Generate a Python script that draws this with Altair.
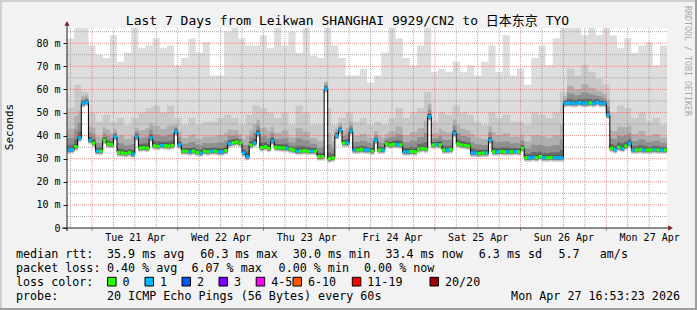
import altair as alt
import pandas as pd

W, H = 600, 200
PAD_L, PAD_T, PAD_R, PAD_B = 67, 28, 30, 82
Y_TOP = 86.6
HOURS = 168
MONO = "DejaVu Sans Mono"

# hourly median RTT (ms), Mon 20 Apr 17:00 -> Mon 27 Apr 17:00
median_ms = [
    33.8, 34.0, 35.2, 39.0, 54.0, 54.5, 38.0, 36.8, 33.3, 33.3, 38.0, 36.4,
    36.2, 39.5, 32.7, 32.5, 32.3, 32.7, 32.0, 39.5, 34.6, 34.8, 34.6, 39.0,
    35.6, 35.4, 35.8, 35.6, 35.5, 35.8, 41.7, 36.0, 33.3, 33.3, 33.0, 33.3,
    32.8, 32.5, 33.3, 33.0, 33.3, 33.3, 33.0, 33.0, 33.5, 36.5, 37.0, 37.3,
    36.8, 32.5, 30.9, 36.0, 36.8, 41.0, 34.8, 35.2, 34.5, 37.7, 35.0, 34.8,
    34.6, 34.6, 34.2, 33.8, 33.3, 33.3, 33.5, 33.3, 33.3, 33.3, 30.9, 30.9,
    60.3, 30.0, 30.4, 40.0, 42.4, 36.8, 36.8, 42.0, 33.8, 33.8, 34.0, 33.8,
    33.8, 33.3, 38.0, 33.8, 33.8, 36.5, 36.0, 36.3, 36.2, 36.0, 33.0, 33.0,
    33.2, 33.0, 34.2, 34.5, 34.2, 48.2, 36.0, 36.2, 36.0, 33.8, 33.8, 34.0,
    41.0, 36.5, 36.0, 35.8, 35.5, 32.5, 32.5, 32.3, 32.5, 32.5, 38.0, 33.0,
    33.0, 33.2, 33.0, 33.0, 33.0, 33.2, 33.0, 34.6, 30.4, 30.4, 30.6, 30.4,
    31.0, 30.4, 30.4, 30.6, 30.4, 30.4, 30.4, 54.0, 54.2, 54.0, 54.0, 54.3,
    54.0, 54.0, 54.2, 54.0, 54.5, 54.0, 54.0, 49.0, 34.5, 34.0, 35.0, 34.5,
    35.5, 36.6, 33.8, 33.8, 34.0, 33.8, 33.8, 33.8, 34.0, 33.8, 33.8, 33.8,
]

# hourly lost pings (of 20)
loss_pings = [
    1, 1, 0, 1, 1, 1, 1, 0, 1, 0, 0, 0,
    0, 1, 0, 0, 0, 0, 1, 1, 0, 0, 0, 1,
    0, 0, 1, 0, 0, 0, 1, 1, 0, 0, 1, 0,
    0, 1, 0, 0, 1, 0, 1, 1, 0, 1, 0, 0,
    0, 1, 1, 0, 1, 1, 0, 0, 0, 1, 0, 0,
    0, 1, 0, 0, 1, 0, 0, 0, 1, 0, 0, 0,
    1, 0, 0, 1, 1, 0, 1, 1, 1, 0, 0, 1,
    1, 0, 1, 0, 1, 0, 0, 0, 1, 0, 1, 1,
    0, 0, 0, 0, 0, 1, 0, 1, 0, 0, 1, 0,
    1, 0, 0, 0, 0, 1, 1, 0, 0, 1, 1, 0,
    1, 0, 0, 1, 0, 1, 0, 0, 0, 1, 1, 0,
    0, 1, 0, 0, 1, 1, 1, 1, 1, 1, 1, 1,
    1, 1, 0, 1, 1, 1, 1, 1, 0, 1, 0, 1,
    0, 1, 1, 0, 0, 1, 0, 0, 1, 0, 1, 0,
]

# smoke extents per 2-hour bin (ms): highest ping, and upper edge of the dense smoke
smoke_max_ms = [
    82, 86.6, 86.6, 79, 75, 73.6, 83.5, 72, 76, 86.6, 78, 79, 82, 78, 79, 70.5, 73.6, 82, 76, 80.5, 66,
    66, 85, 86.6, 82, 79, 79, 83.5, 78, 86.6, 79, 85, 76, 86.6, 74.6, 73.6, 86.6, 79, 73.6, 66, 66, 69,
    63, 66, 76, 86.6, 82, 73.6, 70.5, 79, 86.6, 67.5, 69, 67.5, 72, 67.5, 70.5, 66, 72, 79, 67.5, 83.5, 66,
    69, 62, 73.6, 79, 70.5, 82, 86.6, 86.6, 86.6, 83.5, 86.6, 83.5, 86.6, 83.5, 78, 82, 76, 79, 80.5, 70.5, 79,
]
smoke_mid_ms = [
    52, 62, 59, 50, 46, 49, 46, 47.6, 44.6, 47.6, 50, 52, 53, 50, 53, 47.6, 44.6, 47.6, 44.6, 46, 46,
    47.6, 49, 47.6, 44.6, 49, 53, 52, 50, 47.6, 50, 44.6, 53, 50, 44.6, 44.6, 52, 44.6, 47.6, 50, 46, 47.6,
    44.6, 46, 44.6, 47.6, 52, 47.6, 50, 52, 59, 46, 50, 49, 53, 50, 49, 46, 44.6, 50, 47.6, 49, 46,
    46, 44.6, 50, 49, 47.6, 50, 59, 69, 66, 70.5, 67.5, 64.5, 62, 50, 53, 52, 47.6, 50, 46, 47.6, 44.6,
]

day_label_hours = [19, 43, 67, 91, 115, 139, 163]
day_labels = ["Tue 21 Apr", "Wed 22 Apr", "Thu 23 Apr", "Fri 24 Apr",
              "Sat 25 Apr", "Sun 26 Apr", "Mon 27 Apr"]
midnight_hours = [7, 31, 55, 79, 103, 127, 151]
six_hour_marks = [h for h in range(1, HOURS, 6) if h not in midnight_hours]
y_major_ms = [10, 20, 30, 40, 50, 60, 70, 80]
y_minor_ms = [5, 15, 25, 35, 45, 55, 65, 75, 85]
y_label_ms = [0] + y_major_ms

loss_labels = ["0", "1", "2", "3", "4-5", "6-10", "11-19", "20/20"]
loss_colors = ["#26ff00", "#00b8ff", "#0059ff", "#7e00ff", "#ff00ff", "#ff5500", "#ff0000", "#a10000"]

title_text = "Last 7 Days from Leikwan SHANGHAI 9929/CN2 to 日本东京 TYO"
rtt_stats = ["35.9 ms avg", "60.3 ms max", "30.0 ms min", "33.4 ms now", "6.3 ms sd", "5.7", "am/s"]
loss_stats = ["0.40 % avg", "6.07 % max", "0.00 % min", "0.00 % now"]
probe_text = "20 ICMP Echo Pings (56 Bytes) every 60s"
stamp_text = "Mon Apr 27 16:53:23 2026"
watermark = "RRDTOOL / TOBI OETIKER"


def loss_bucket(n):
    if n <= 3:
        return loss_labels[n]
    if n <= 5:
        return "4-5"
    if n <= 10:
        return "6-10"
    if n <= 19:
        return "11-19"
    return "20/20"


hrs = list(range(HOURS + 1))
idx = [min(h, HOURS - 1) for h in hrs]
steps = pd.DataFrame({
    "h": hrs,
    "med": [median_ms[i] for i in idx],
    "top": [smoke_max_ms[i // 2] for i in idx],
    "mid": [smoke_mid_ms[i // 2] for i in idx],
})
marks = pd.DataFrame({
    "h": list(range(HOURS)),
    "med": median_ms,
    "loss": [loss_bucket(n) for n in loss_pings],
})

xs = alt.Scale(domain=[0, HOURS], nice=False, zero=False)
ys = alt.Scale(domain=[0, Y_TOP], nice=False, zero=True)

label_arr = "[" + ",".join("'%s'" % s for s in day_labels) + "]"
x_axis = alt.Axis(values=day_label_hours, labelExpr=f"{label_arr}[round((datum.value - 19) / 24)]",
                  ticks=False, domain=False, grid=False, title=None, labelPadding=9,
                  labelBaseline="middle", labelFont=MONO, labelFontSize=10, labelColor="black",
                  labelAngle=0, labelFlush=False, labelOverlap=False)
y_axis = alt.Axis(values=y_label_ms, labelExpr="datum.value == 0 ? '0\u00a0\u00a0' : datum.value + ' m'",
                  ticks=True, tickSize=4, tickColor="#1f1f1f", domain=False, grid=False, title=None,
                  labelPadding=3, labelFont=MONO, labelFontSize=10, labelColor="black",
                  labelFlush=False, labelOverlap=False)


def X(field):
    return alt.X(field, scale=xs, axis=x_axis)


def Y(field):
    return alt.Y(field, scale=ys, axis=y_axis)


def smoke(lo, hi, color):
    return alt.Chart(steps).transform_calculate(lo=lo, hi=hi).mark_area(
        interpolate="step-after", color=color, opacity=1, clip=True
    ).encode(x=X("h:Q"), y=Y("lo:Q"), y2="hi:Q")


layers = [
    smoke("datum.med - 1.8", "datum.top", "#dddddd"),
    smoke("datum.med - 1.5", "max(datum.mid, datum.med + 3)", "#c9c9c9"),
    smoke("datum.med - 1.2", "datum.med + max(datum.mid - datum.med, 6) * 0.5", "#afafaf"),
    smoke("datum.med - 1.0", "datum.med + max(datum.mid - datum.med, 6) * 0.28", "#909090"),
    smoke("datum.med - 0.8", "datum.med + max(datum.mid - datum.med, 6) * 0.12", "#6a6a6a"),
    smoke("datum.med - 0.5", "datum.med + 1.0", "#444444"),
]

grid_minor = dict(color="#8f8f8f", opacity=0.75, strokeDash=[1, 1], strokeWidth=1)
grid_major = dict(color="#de4f4f", opacity=0.6, strokeDash=[1, 1], strokeWidth=1)
layers += [
    alt.Chart(pd.DataFrame({"v": y_minor_ms})).mark_rule(**grid_minor).encode(y=Y("v:Q")),
    alt.Chart(pd.DataFrame({"v": six_hour_marks})).mark_rule(**grid_minor).encode(x=X("v:Q")),
    alt.Chart(pd.DataFrame({"v": y_major_ms})).mark_rule(**grid_major).encode(y=Y("v:Q")),
    alt.Chart(pd.DataFrame({"v": midnight_hours})).mark_rule(**grid_major).encode(x=X("v:Q")),
]

# median line + loss-coloured markers
layers += [
    alt.Chart(steps).mark_line(interpolate="step-after", color="black", strokeWidth=1, clip=True).encode(
        x=X("h:Q"), y=Y("med:Q")),
    alt.Chart(marks).transform_calculate(
        h2="datum.h + 1", lo="datum.med - 0.7", hi="datum.med + 0.7"
    ).mark_rect(clip=True).encode(
        x=X("h:Q"), x2="h2:Q", y=Y("lo:Q"), y2="hi:Q",
        color=alt.Color("loss:N", scale=alt.Scale(domain=loss_labels, range=loss_colors), legend=None),
    ),
]

one = pd.DataFrame({"k": [0]})


def px(x):
    return alt.value(x - PAD_L)


def py(y):
    return alt.value(y - PAD_T)


# axis lines, arrows, ticks
layers += [
    alt.Chart(pd.DataFrame({"v": midnight_hours})).mark_rule(color="#8f8f8f").encode(
        x=X("v:Q"), y=py(228), y2=py(231)),
    alt.Chart(one).mark_rule(color="#1f1f1f", strokeWidth=1).encode(x=px(67), y=py(22), y2=py(231)),
    alt.Chart(one).mark_rule(color="#1f1f1f", strokeWidth=1).encode(x=px(62), x2=px(668), y=py(228)),
    alt.Chart(one).mark_point(shape="triangle-up", filled=True, color="#801f1f", size=28, opacity=1).encode(
        x=px(67), y=py(23.5)),
    alt.Chart(one).mark_point(shape="triangle-right", filled=True, color="#801f1f", size=28, opacity=1).encode(
        x=px(670.5), y=py(228)),
]

# 3D frame
frame = [
    (0, 697, 0, 2, "#cfcfcf"), (0, 2, 0, 310, "#cfcfcf"),
    (0, 697, 308, 310, "#9e9e9e"), (695, 697, 0, 310, "#9e9e9e"),
]
for x1, x2, y1, y2, c in frame:
    layers.append(alt.Chart(one).mark_rect(color=c).encode(x=px(x1), x2=px(x2), y=py(y1), y2=py(y2)))


def text(s, x, y, size=11.7, align="left", angle=0, color="black", font=MONO):
    return alt.Chart(pd.DataFrame({"t": [s]})).mark_text(
        align=align, baseline="middle", angle=angle, fontSize=size, font=font, color=color
    ).encode(text="t:N", x=px(x), y=py(y))


layers.append(text(title_text, 347.5, 20.5, size=13, align="center",
                   font="DejaVu Sans Mono, Noto Sans CJK SC"))
layers.append(text("Seconds", 10, 127, size=11, align="center", angle=270))
layers.append(text(watermark, 687, 61, size=8.3, align="center", angle=90, color="#a8a8a8"))

L1, L2, L3, L4 = 254, 268.3, 281.7, 296
layers.append(text("median rtt:", 16, L1))
for s, x in zip(rtt_stats, [107, 200.3, 292.8, 385.4, 478.8, 558.4, 599.8]):
    layers.append(text(s, x, L1))
layers.append(text("packet loss:", 16, L2))
for s, x in zip(loss_stats, [107, 191.4, 278.6, 364]):
    layers.append(text(s, x, L2))
layers.append(text("loss color:", 16, L3))
box_x = [107.6, 145, 182, 219, 256.2, 293, 352.3, 430]
for lab, col, bx in zip(loss_labels, loss_colors, box_x):
    layers.append(alt.Chart(one).mark_rect(color=col, stroke="black", strokeWidth=1).encode(
        x=px(bx), x2=px(bx + 8.5), y=py(277.3), y2=py(286)))
    layers.append(text(lab, bx + 15, L3))
layers.append(text("probe:", 16, L4))
layers.append(text(probe_text, 107, L4))
layers.append(text(stamp_text, 680, L4, align="right"))

chart = alt.layer(*layers).properties(
    width=W, height=H,
    padding={"left": PAD_L, "top": PAD_T, "right": PAD_R, "bottom": PAD_B},
    autosize=alt.AutoSizeParams(type="none"),
    background="#f2f2f2",
).configure_view(fill="white", stroke=None)

chart.save("out.html", embed_options={"renderer": "svg", "actions": False})
